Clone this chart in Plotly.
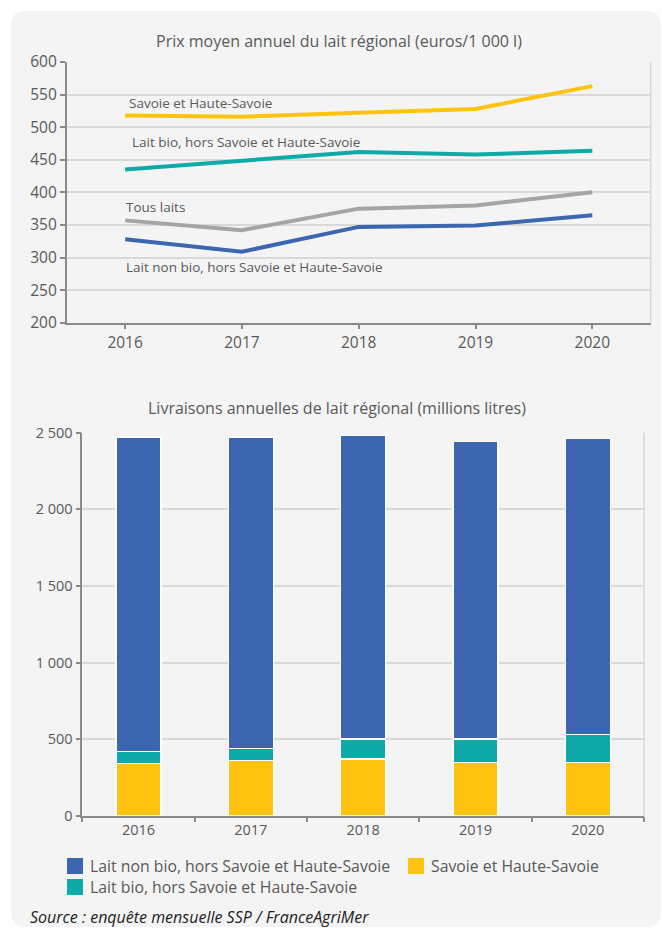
import plotly.graph_objects as go

# ---- data -------------------------------------------------------------
years = ["2016", "2017", "2018", "2019", "2020"]

# Prix moyen annuel (euros / 1 000 l)
prix_savoie = [518, 516, 522, 528, 563]
prix_bio = [435, 448, 462, 458, 464]
prix_tous = [357, 342, 375, 380, 400]
prix_nonbio = [328, 309, 347, 349, 365]

# Livraisons annuelles (millions de litres)
vol_savoie = [340, 360, 370, 348, 348]
vol_bio = [79, 78, 130, 152, 182]
vol_nonbio = [2053, 2034, 1982, 1941, 1933]

lbl_nonbio = "Lait non bio, hors Savoie et Haute-Savoie"
lbl_bio = "Lait bio, hors Savoie et Haute-Savoie"
lbl_savoie = "Savoie et Haute-Savoie"
lbl_tous = "Tous laits"

# ---- style ------------------------------------------------------------
W, H = 662, 928
FONT = "Open Sans"
TXT = "#595959"
AXIS = "#8a8a8a"
GRID = "#d9d9d9"
PANEL = "#f4f4f4"
C_BLUE = "#3c66b0"
C_TEAL = "#0eaaa7"
C_YELLOW = "#fdc30e"
C_GRAY = "#a5a5a5"


def px(x):
    return x / W


def py(y):
    return 1 - y / H


fig = go.Figure()

# Price lines (top panel)
for vals, col, name in [
    (prix_savoie, C_YELLOW, lbl_savoie),
    (prix_bio, C_TEAL, lbl_bio),
    (prix_tous, C_GRAY, lbl_tous),
    (prix_nonbio, C_BLUE, lbl_nonbio),
]:
    fig.add_trace(go.Scatter(
        x=years, y=vals, mode="lines", name=name,
        line=dict(color=col, width=4),
        xaxis="x", yaxis="y", showlegend=False, hoverinfo="x+y+name",
    ))

# Stacked deliveries (bottom panel)
for vals, col, name in [
    (vol_savoie, C_YELLOW, lbl_savoie),
    (vol_bio, C_TEAL, lbl_bio),
    (vol_nonbio, C_BLUE, lbl_nonbio),
]:
    fig.add_trace(go.Bar(
        x=years, y=vals, name=name, width=0.4,
        marker=dict(color=col, line=dict(color="white", width=1.5)),
        xaxis="x2", yaxis="y2", showlegend=False,
    ))


def axis_style(size):
    return dict(
        showline=True, linecolor=AXIS, linewidth=1.5,
        ticks="outside", tickcolor=AXIS, tickwidth=1.5, ticklen=5,
        tickfont=dict(family=FONT, size=size, color=TXT),
        zeroline=False, automargin=False,
    )


fig.update_layout(
    width=W, height=H,
    margin=dict(l=0, r=0, t=0, b=0, pad=0, autoexpand=False),
    showlegend=False,
    paper_bgcolor="white",
    plot_bgcolor=PANEL,
    separators=", ",
    barmode="stack",
    font=dict(family=FONT, color=TXT),
    xaxis=dict(
        domain=[px(66.7), px(650.7)], anchor="y",
        type="category", range=[-0.5, 4.5], showgrid=False,
        **axis_style(15.5),
    ),
    yaxis=dict(
        domain=[py(322.7), py(62)], anchor="x",
        range=[200, 600], dtick=50, showgrid=True,
        gridcolor=GRID, gridwidth=1.5,
        **axis_style(15.5),
    ),
    xaxis2=dict(
        domain=[px(82.3), px(644)], anchor="y2",
        type="category", range=[-0.5, 4.5], showgrid=False,
        tickson="boundaries",
        **axis_style(14.5),
    ),
    yaxis2=dict(
        domain=[py(815.7), py(432.7)], anchor="x2",
        range=[0, 2500], dtick=500, tickformat=",.0f", showgrid=True,
        gridcolor=GRID, gridwidth=1.5,
        **axis_style(14.5),
    ),
)


# Rounded background panel
def rounded_rect(x0, y0, x1, y1, r):
    p = [
        f"M {px(x0 + r)} {py(y0)}",
        f"L {px(x1 - r)} {py(y0)}",
        f"Q {px(x1)} {py(y0)} {px(x1)} {py(y0 + r)}",
        f"L {px(x1)} {py(y1 - r)}",
        f"Q {px(x1)} {py(y1)} {px(x1 - r)} {py(y1)}",
        f"L {px(x0 + r)} {py(y1)}",
        f"Q {px(x0)} {py(y1)} {px(x0)} {py(y1 - r)}",
        f"L {px(x0)} {py(y0 + r)}",
        f"Q {px(x0)} {py(y0)} {px(x0 + r)} {py(y0)}",
        "Z",
    ]
    return " ".join(p)


shapes = [
    dict(type="path", xref="paper", yref="paper",
         path=rounded_rect(11, 11, 661, 927, 15),
         fillcolor=PANEL, line=dict(width=0), layer="below"),
    dict(type="line", xref="x domain", yref="y domain",
         x0=1, x1=1, y0=0, y1=1, line=dict(color=GRID, width=1.5)),
    dict(type="line", xref="x2 domain", yref="y2 domain",
         x0=1, x1=1, y0=0, y1=1, line=dict(color=GRID, width=1.5)),
]

# Legend swatches for the bar panel
legend_items = [
    (67, 866, C_BLUE, lbl_nonbio),
    (408, 866, C_YELLOW, lbl_savoie),
    (67, 887, C_TEAL, lbl_bio),
]
for x, y, col, _ in legend_items:
    shapes.append(dict(type="rect", xref="paper", yref="paper",
                       x0=px(x), x1=px(x + 16), y0=py(y + 8), y1=py(y - 8),
                       fillcolor=col, line=dict(width=0)))

annotations = [
    dict(text="Prix moyen annuel du lait régional (euros/1 000 l)",
         x=px(339), y=py(41), xref="paper", yref="paper",
         xanchor="center", yanchor="middle", showarrow=False,
         font=dict(family=FONT, size=16, color=TXT)),
    dict(text="Livraisons annuelles de lait régional (millions litres)",
         x=px(337), y=py(408), xref="paper", yref="paper",
         xanchor="center", yanchor="middle", showarrow=False,
         font=dict(family=FONT, size=16, color=TXT)),
    dict(text="<i>Source : enquête mensuelle SSP / FranceAgriMer</i>",
         x=px(28), y=py(917), xref="paper", yref="paper",
         xanchor="left", yanchor="middle", showarrow=False,
         font=dict(family=FONT, size=16, color="#222222")),
]

# Series labels inside the price panel
for x, y, name in [
    (127, 103, lbl_savoie),
    (130, 142, lbl_bio),
    (124, 207, lbl_tous),
    (124, 267, lbl_nonbio),
]:
    annotations.append(dict(text=name, x=px(x), y=py(y),
                            xref="paper", yref="paper",
                            xanchor="left", yanchor="middle", showarrow=False,
                            font=dict(family=FONT, size=13.5, color=TXT)))

for x, y, _, name in legend_items:
    annotations.append(dict(text=name, x=px(x + 21), y=py(y),
                            xref="paper", yref="paper",
                            xanchor="left", yanchor="middle", showarrow=False,
                            font=dict(family=FONT, size=15.8, color=TXT)))

fig.update_layout(shapes=shapes, annotations=annotations)

fig.write_html("out.html")
